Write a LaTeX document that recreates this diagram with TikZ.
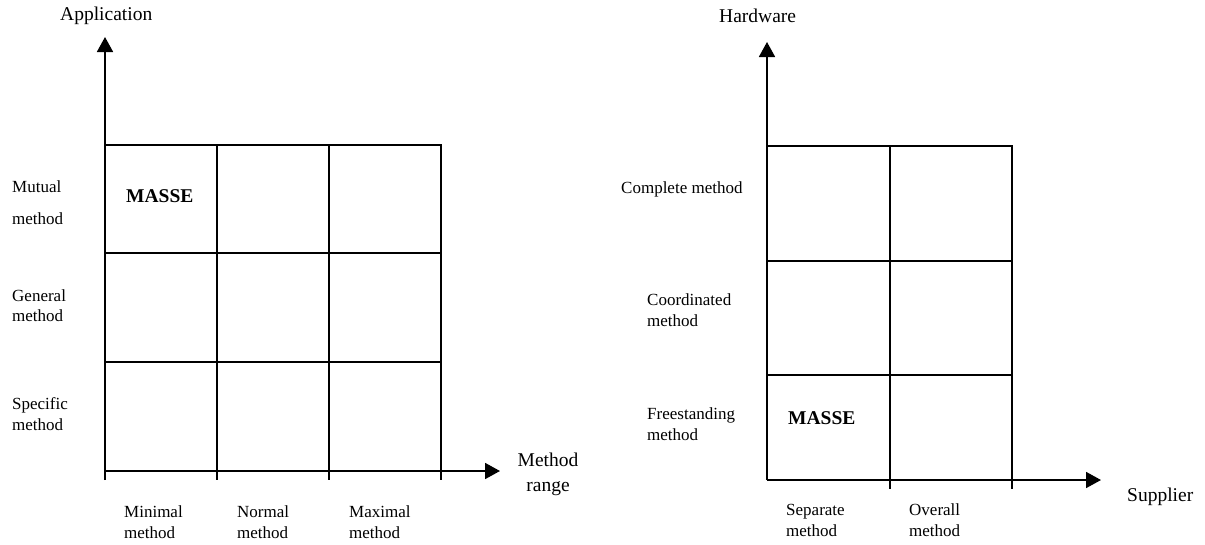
\documentclass[tikz,border=0pt]{standalone}
\usepackage{fontspec}
\setmainfont{Liberation Serif}
\usetikzlibrary{arrows.meta}
\begin{document}
\begin{tikzpicture}[x=1pt,y=-1pt,
  gridline/.style={line width=1.8pt,line cap=rect},
  axisarrow/.style={line width=1.8pt,-{Triangle[length=15pt,width=16pt]}},
  lbl/.style={anchor=west,inner sep=0pt,align=left,font=\fontsize{17}{20.5}\selectfont},
  title/.style={anchor=west,inner sep=0pt,align=left,font=\fontsize{19.5}{25}\selectfont},
  cellmark/.style={anchor=west,inner sep=0pt,font=\fontsize{19.5}{24}\bfseries\selectfont}]
\useasboundingbox (0,0) rectangle (1205,544);

% ---------- Application / method range ----------
\coordinate (LO)    at (105,471);
\coordinate (LFoot) at (105,480);
\coordinate (LYtip) at (105,37);
\coordinate (LXtip) at (500,471);
\draw[axisarrow] (LFoot) -- (LYtip);
\draw[axisarrow] (LO) -- (LXtip);
\foreach \y in {145,253,362}
  \draw[gridline] (105,\y) -- (441,\y);
\foreach \x in {217,329,441}
  \draw[gridline] (\x,145) -- (\x,479);

\node[title] (app) at (60,16) {Application};
\node[lbl,font=\fontsize{17}{32}\selectfont] (mutual) at (12,203) {Mutual\\method};
\node[lbl] (general) at (12,305.5) {General\\method};
\node[lbl] (specific) at (12,414) {Specific\\method};
\node[cellmark] (masseL) at (126,196) {MASSE};
\node[lbl] (minimal) at (124,522) {Minimal\\method};
\node[lbl] (normal) at (237,522) {Normal\\method};
\node[lbl] (maximal) at (349,522) {Maximal\\method};
\node[title,anchor=center,align=center] (range) at (548,474.5) {Method\\range};

% ---------- Hardware / supplier ----------
\coordinate (RO)    at (767,480);
\coordinate (RYtip) at (767,42);
\coordinate (RXtip) at (1101,480);
\draw[axisarrow] (RO) -- (RYtip);
\draw[axisarrow] (RO) -- (RXtip);
\foreach \y in {146,261,375}
  \draw[gridline] (767,\y) -- (1012,\y);
\foreach \x in {890,1012}
  \draw[gridline] (\x,146) -- (\x,488);

\node[title] (hw) at (719,16) {Hardware};
\node[lbl] (complete) at (621,189) {Complete method};
\node[lbl] (coord) at (647,310) {Coordinated\\method};
\node[lbl] (free) at (647,424) {Freestanding\\method};
\node[cellmark] (masseR) at (788,418) {MASSE};
\node[lbl] (separate) at (786,520.5) {Separate\\method};
\node[lbl] (overall) at (909,520) {Overall\\method};
\node[title] (supplier) at (1127,497) {Supplier};
\end{tikzpicture}
\end{document}
